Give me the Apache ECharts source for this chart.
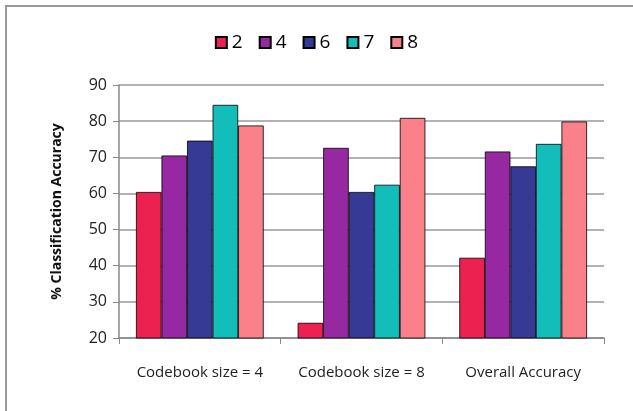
<!DOCTYPE html>
<html><head><meta charset="utf-8">
<script src="https://cdn.jsdelivr.net/npm/echarts@6/dist/echarts.min.js"></script>
<style>html,body{margin:0;padding:0;background:#fff}#c{width:633px;height:411px}</style>
</head><body><div id="c"></div>
<script>
const categories = ['Codebook size = 4', 'Codebook size = 8', 'Overall Accuracy'];
const seriesNames = ['2', '4', '6', '7', '8'];
const s2 = [60.4, 24.2, 42.2];
const s4 = [70.5, 72.6, 71.6];
const s6 = [74.6, 60.4, 67.5];
const s7 = [84.5, 62.4, 73.7];
const s8 = [78.8, 80.9, 79.9];
const yTicks = [20, 30, 40, 50, 60, 70, 80, 90];
const colors = ['#EC2150', '#9629A2', '#363A95', '#13BDB9', '#FA8189'];
const allData = [s2, s4, s6, s7, s8];

const chart = echarts.init(document.getElementById('c'));
chart.setOption({
  animation: false,
  graphic: [{type: 'rect', shape: {x: 6, y: 6, width: 700, height: 500}, style: {fill: 'none', stroke: '#999', lineWidth: 2}}],
  legend: {
    top: 28, left: 'center', itemWidth: 11, itemHeight: 11, itemGap: 16,
    icon: 'rect',
    textStyle: {fontFamily: 'Open Sans', fontSize: 19, color: '#000'},
    data: seriesNames
  },
  grid: {left: 119, right: 29, top: 85, bottom: 73},
  xAxis: {
    type: 'category', data: categories,
    axisLine: {lineStyle: {color: '#888', width: 1.5}},
    axisTick: {show: true, length: 6, lineStyle: {color: '#888'}},
    axisLabel: {fontFamily: 'Open Sans', fontSize: 15, color: '#222', margin: 27, interval: 0, hideOverlap: false}
  },
  yAxis: {
    type: 'value', min: 20, max: 90, interval: 10,
    name: '% Classification Accuracy', nameLocation: 'middle', nameGap: 55,
    nameTextStyle: {fontFamily: 'Open Sans', fontWeight: 'bold', fontSize: 14, color: '#111'},
    axisLine: {show: true, lineStyle: {color: '#888', width: 1.5}},
    axisTick: {show: true, length: 6, lineStyle: {color: '#888'}},
    axisLabel: {fontFamily: 'Open Sans', fontSize: 16, color: '#222', margin: 12, formatter: v => yTicks.includes(v) ? String(v) : ''},
    splitLine: {lineStyle: {color: '#999', width: 1.5}}
  },
  series: seriesNames.map((n, i) => ({
    name: n, type: 'bar', data: allData[i],
    barGap: '0%', barCategoryGap: '21%',
    itemStyle: {color: colors[i], borderColor: echarts.color.modifyHSL(colors[i], null, null, -0.08), borderWidth: 0.8}
  }))
});
</script></body></html>
